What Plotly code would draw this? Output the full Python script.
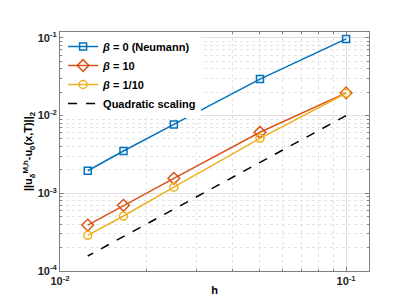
import plotly.graph_objects as go

h = [0.1, 0.05, 0.025, 0.016667, 0.0125]
err_neumann = [0.097, 0.0295, 0.0077, 0.0035, 0.00195]
err_beta10 = [0.0196, 0.0061, 0.00156, 0.0007, 0.00039]
err_beta01 = [0.0194, 0.0051, 0.0012, 0.00051, 0.000288]
quad = [0.01, 0.0025, 0.000625, 0.000278, 0.000156]

xtick_vals = [0.01, 0.1]
xtick_text = ["10<sup>-2</sup>", "10<sup>-1</sup>"]
ytick_vals = [1e-4, 1e-3, 1e-2, 1e-1]
ytick_text = ["10<sup>-4</sup>", "10<sup>-3</sup>", "10<sup>-2</sup>", "10<sup>-1</sup>"]
x_minor = [m * 10.0 ** e for e in (-2, -1) for m in range(2, 10)]
y_minor = [m * 10.0 ** e for e in (-4, -3, -2, -1) for m in range(2, 10)]

fig = go.Figure()
fig.add_trace(go.Scatter(x=h, y=err_neumann, mode="lines+markers", name="<i>β</i> = 0 (Neumann)",
                         line=dict(color="#0072BD", width=1.5),
                         marker=dict(symbol="square-open", size=7, color="#0072BD", line=dict(width=1.5))))
fig.add_trace(go.Scatter(x=h, y=err_beta10, mode="lines+markers", name="<i>β</i> = 10",
                         line=dict(color="#D95319", width=1.5),
                         marker=dict(symbol="diamond-open", size=9, color="#D95319", line=dict(width=1.5))))
fig.add_trace(go.Scatter(x=h, y=err_beta01, mode="lines+markers", name="<i>β</i> = 1/10",
                         line=dict(color="#EDB120", width=1.5),
                         marker=dict(symbol="circle-open", size=8, color="#EDB120", line=dict(width=1.5))))
fig.add_trace(go.Scatter(x=h, y=quad, mode="lines", name="Quadratic scaling",
                         line=dict(color="black", width=1.5, dash="dash")))


def axis_common(minor_vals):
    return dict(
        type="log", showline=True, linecolor="#808080", linewidth=1, mirror="ticks",
        ticks="inside", ticklen=4, tickcolor="#808080",
        showgrid=True, gridcolor="#e0e0e0", gridwidth=1, zeroline=False,
        minor=dict(tickmode="array", tickvals=minor_vals, ticks="inside", ticklen=2,
                   tickcolor="#808080", showgrid=True, gridcolor="#e3e3e3", griddash="dot"),
        tickfont=dict(family="Liberation Sans, Arial", size=11, color="#262626", weight="bold"),
    )


fig.update_layout(
    width=399, height=299,
    margin=dict(l=52, r=38, t=24, b=32),
    paper_bgcolor="white", plot_bgcolor="white",
    font=dict(family="Liberation Sans, Arial", size=11, color="black", weight="bold"),
    showlegend=True,
    legend=dict(x=0.01, y=1.0, xanchor="left", yanchor="top", bgcolor="white",
                borderwidth=0, font=dict(size=11, weight="bold"), tracegroupgap=0),
    xaxis=dict(**axis_common(x_minor), range=[-2, -0.92], tickvals=xtick_vals, ticktext=xtick_text,
               title=dict(text="h", standoff=0, font=dict(size=11, weight="bold"))),
    yaxis=dict(**axis_common(y_minor), range=[-4, -0.924], tickvals=ytick_vals, ticktext=ytick_text,
               title=dict(text="||u<sub>δ</sub><sup>M,h</sup>-u<sub>0</sub>(x,T)||<sub>2</sub>",
                          standoff=2, font=dict(size=11, weight="bold"))),
)

fig.write_html("out.html")
